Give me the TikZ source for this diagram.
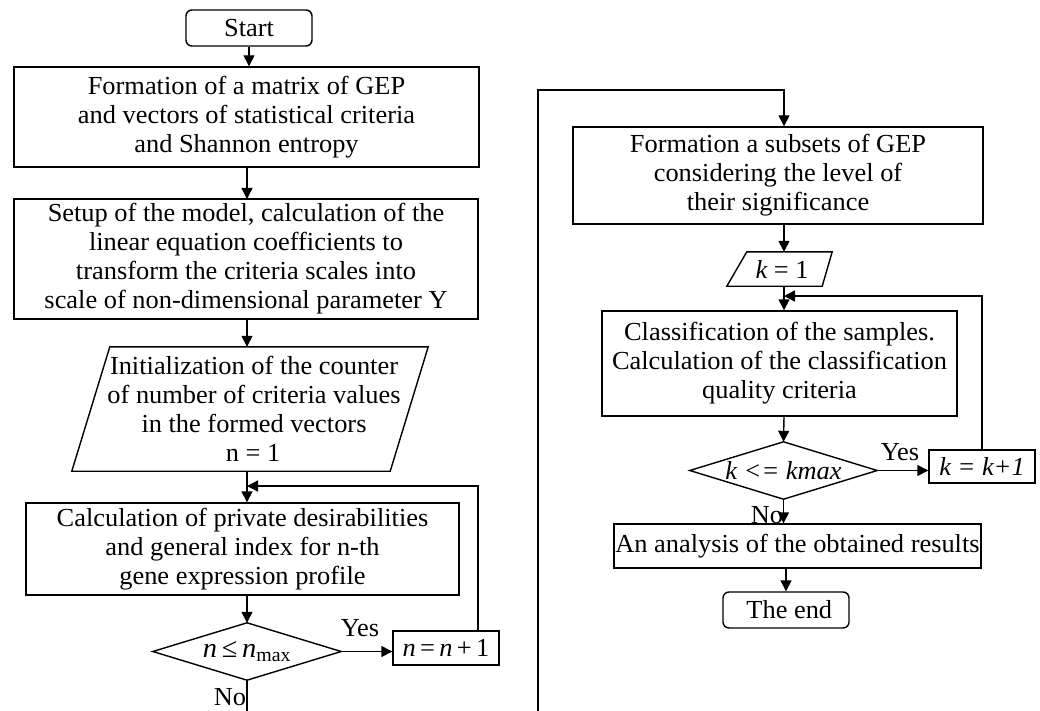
\documentclass[tikz,border=0pt]{standalone}
\usepackage{fontspec}
\setmainfont{Liberation Serif}[FakeStretch=1.015]
\usetikzlibrary{arrows.meta,calc}
\begin{document}
\begin{tikzpicture}[x=1pt,y=-1pt,
  every node/.style={font=\fontsize{26}{29}\selectfont, inner sep=0pt, align=center},
  box/.style={draw, line width=1.4pt, rectangle},
  term/.style={draw, line width=1.4pt, rectangle, rounded corners=6pt},
  shp/.style={rectangle},
  ln/.style={line width=1.4pt},
  arr/.style={line width=1.4pt, -{Triangle[length=11pt,width=11pt]}},
  lbl/.style={font=\fontsize{26}{29}\selectfont}
]
\useasboundingbox (0,0) rectangle (1040,711);
% left column
\node[term, minimum width=126pt, minimum height=36pt] (start) at (249,28) {Start};
\node[box, minimum width=465pt, minimum height=100pt] (b1) at (246.5,117) {Formation of a matrix of GEP\\and vectors of statistical criteria\\and Shannon entropy};
\node[box, minimum width=464pt, minimum height=120pt] (b2) at (246,259) {Setup of the model, calculation of the\\linear equation coefficients to\\transform the criteria scales into\\scale of non-dimensional parameter Y};
\node[shp, minimum width=318pt, minimum height=124pt] (p1) at (250,409) {\hspace*{8pt}Initialization of the counter\\\hspace*{8pt}of number of criteria values\\\hspace*{8pt}in the formed vectors\\\hspace*{6pt}n = 1};
\draw[ln] ($(p1.north west)+(19,0)$) -- ($(p1.north east)+(19,0)$) -- ($(p1.south east)+(-19,0)$) -- ($(p1.south west)+(-19,0)$) -- cycle;
\node[box, minimum width=433pt, minimum height=92pt] (b3) at (242.5,549) {Calculation of private desirabilities\\and general index for n-th\\gene expression profile};
\node[shp, minimum width=188pt, minimum height=57pt] (d1) at (247,651.5) {\fontsize{28}{29}\selectfont\itshape n\,\upshape≤\,\itshape n\upshape\textsubscript{max}};
\draw[ln] (d1.west) -- (d1.north) -- (d1.east) -- (d1.south) -- cycle;
\node[box, minimum width=106pt, minimum height=34pt] (n1) at (446,648) {\itshape n\upshape\,=\,\itshape n\upshape\,+\,1};
\coordinate (bl) at (247,711);
\coordinate (j1) at (247,486);
\coordinate (nup) at (478,631);
% connectors left
\draw[arr] (start.south) -- (start.south |- b1.north);
\draw[arr] (247,167) -- (247,199);
\draw[arr] (b2.south -| j1) -- (p1.north -| j1);
\draw[arr] (p1.south -| j1) -- (b3.north -| j1);
\draw[arr] (b3.south -| j1) -- (d1.north);
\draw[arr] (d1.east) -- (n1.west |- d1.east);
\draw[arr] (nup) |- (j1);
\draw[ln] (d1.south) -- (bl);
\node[lbl] (yes1) at (360,628) {Yes};
\node[lbl] (no1) at (230,697) {No};
% right column
\node[box, minimum width=410pt, minimum height=97pt] (b4) at (778,175.5) {Formation a subsets of GEP\\considering the level of\\their significance};
\node[shp, minimum width=90pt, minimum height=34pt] (p2) at (782,269) {\itshape k\upshape\ = 1};
\draw[ln] ($(p2.north west)+(10,0)$) -- ($(p2.north east)+(5,0)$) -- ($(p2.south east)+(-5,0)$) -- ($(p2.south west)+(-10,0)$) -- cycle;
\node[box, minimum width=355pt, minimum height=105pt] (b5) at (779.5,363.5) {Classification of the samples.\\Calculation of the classification\\quality criteria};
\node[shp, minimum width=187pt, minimum height=57pt] (d2) at (783.5,470.5) {\itshape k <= kmax};
\draw[ln] (d2.west) -- (d2.north) -- (d2.east) -- (d2.south) -- cycle;
\node[box, minimum width=106pt, minimum height=33pt] (k1) at (982,466.5) {\itshape k = k+1};
\node[box, minimum width=367pt, minimum height=44pt] (b6) at (797.5,546) {An analysis of the obtained results};
\node[term, minimum width=126pt, minimum height=36pt] (end) at (786,610) {\ The end};
\coordinate (br) at (538,711);
\coordinate (top) at (784,90);
\coordinate (j2) at (784,296);
\coordinate (kup) at (982,450);
\draw[arr] (br) |- (top) -- (top |- b4.north);
\draw[arr] (b4.south -| j2) -- (p2.north -| j2);
\draw[arr] (p2.south -| j2) -- (b5.north -| j2);
\draw[arr] (kup) |- (j2);
\draw[arr] (b5.south -| j2) -- (d2.north);
\draw[arr] (d2.east) -- (k1.west |- d2.east);
\draw[arr] (d2.south) -- (d2.south |- b6.north);
\draw[arr] (b6.south -| end.north) -- (end.north);
\node[lbl] (yes2) at (900,452) {Yes};
\node[lbl] (no2) at (767,515) {No};
\end{tikzpicture}
\end{document}
